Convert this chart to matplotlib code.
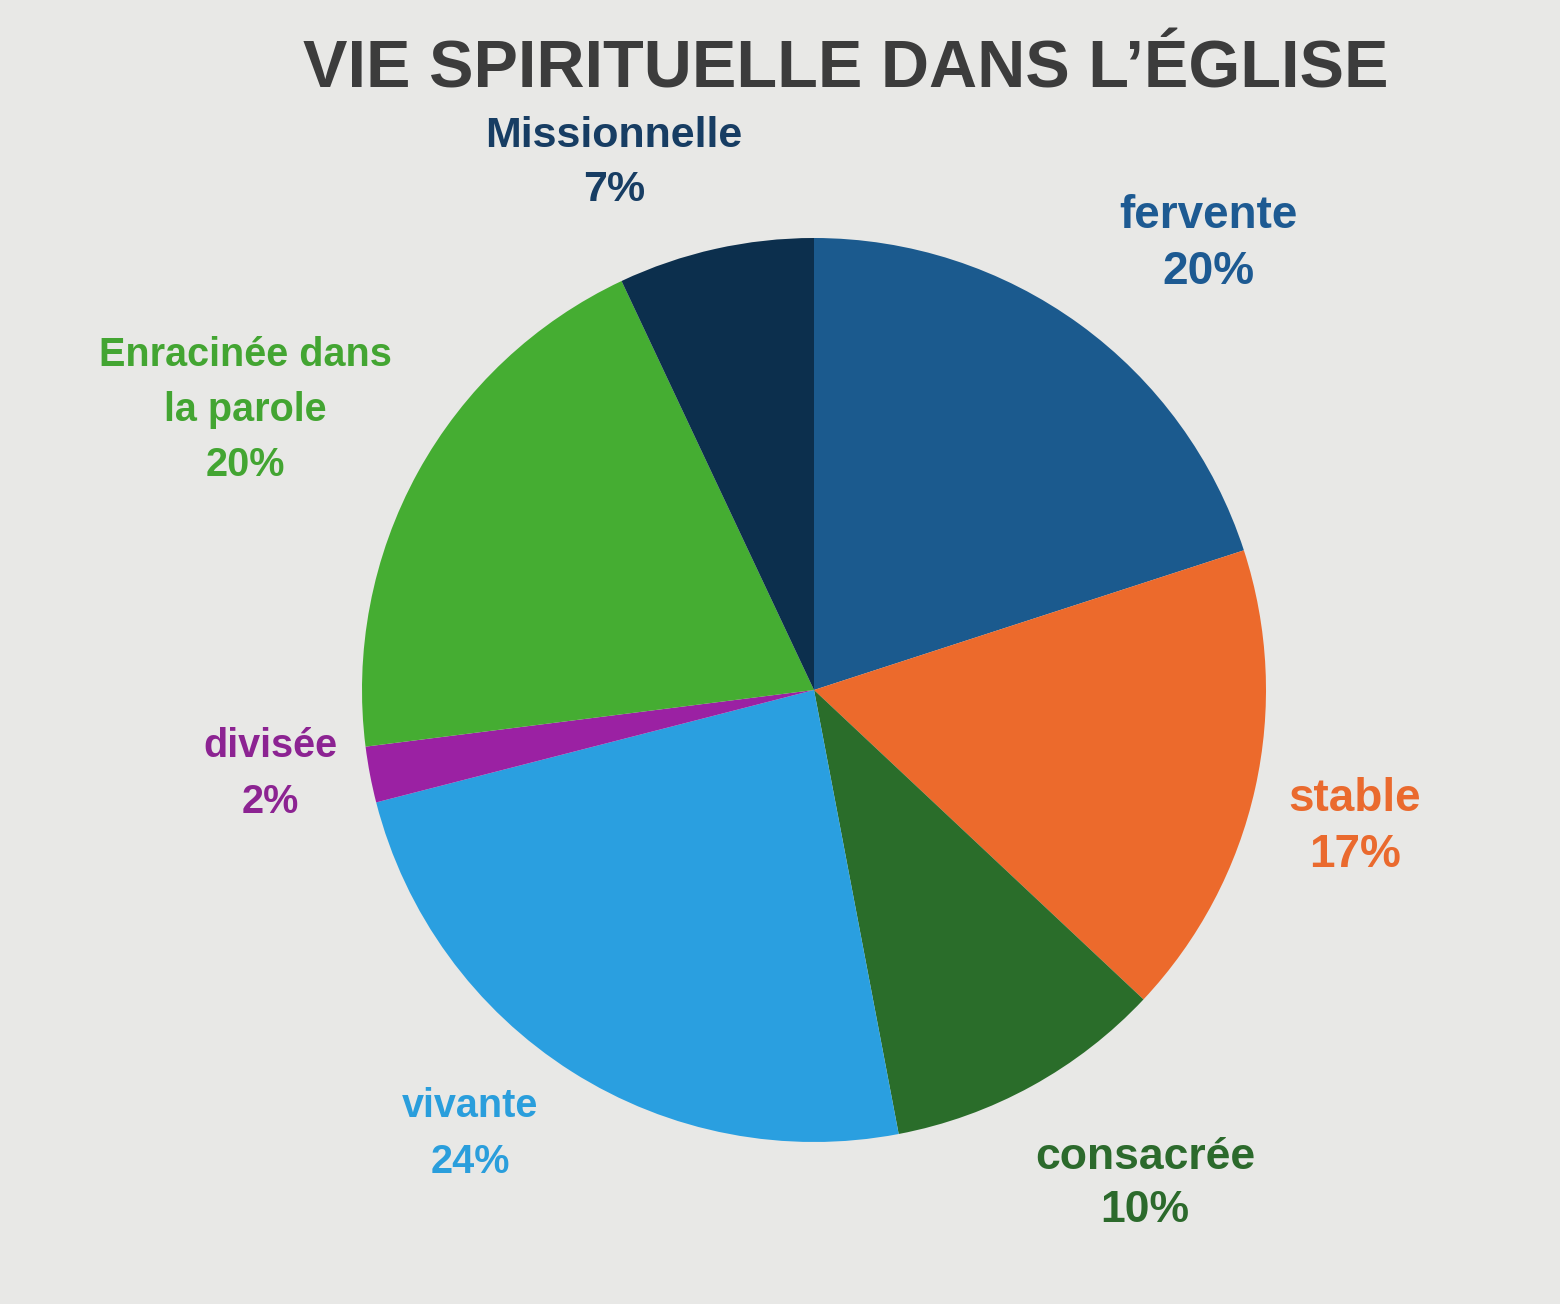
import matplotlib
matplotlib.use("Agg")
import matplotlib.pyplot as plt

categories = ["fervente", "stable", "consacrée", "vivante", "divisée",
              "Enracinée dans\nla parole", "Missionnelle"]
values = [20, 17, 10, 24, 2, 20, 7]
slice_colors = ["#1b5a8e", "#ec6a2c", "#2a6d2a", "#2a9fe0", "#9b21a3",
                "#45ad32", "#0c2f4d"]
label_colors = ["#1d5a92", "#ea6a2e", "#2c6a2c", "#2a9edc", "#8c2392",
                "#43a532", "#173d63"]
title = "VIE SPIRITUELLE DANS L\u2019ÉGLISE"

W, H = 1560, 1304
bg = "#e8e8e6"
fig = plt.figure(figsize=(W / 100, H / 100), dpi=100, facecolor=bg)

cx, cy, r = 814, 690, 452
ax = fig.add_axes([(cx - r) / W, (H - cy - r) / H, 2 * r / W, 2 * r / H])
ax.set_facecolor(bg)
ax.pie(values, colors=slice_colors, startangle=90, counterclock=False,
       radius=1.0, wedgeprops=dict(linewidth=0))
ax.set_xlim(-1, 1)
ax.set_ylim(-1, 1)
ax.set_aspect("equal")
ax.axis("off")

family = ["Liberation Sans", "DejaVu Sans"]
fig.text(846 / W, 1 - 70 / H, title, ha="center", va="center",
         fontsize=48, fontweight="bold", color="#3c3c3c", family=family)

# label positions (pixel centres of label block) and sizes
label_pos = [(1208, 244), (1355, 827), (1145, 1184), (470, 1134),
             (270, 774), (245, 410), (614, 163)]
label_sizes = [33, 33, 32, 28.5, 28.5, 28.5, 31]
for name, v, col, (px, py), fs in zip(categories, values, label_colors,
                                     label_pos, label_sizes):
    ls = 56 / (fs * 100 / 72 * 0.9)
    fig.text(px / W, 1 - py / H, f"{name}\n{v}%", ha="center", va="center",
             fontsize=fs, fontweight="bold", color=col, family=family,
             linespacing=ls)

fig.savefig("out.png", dpi=100, facecolor=bg)
